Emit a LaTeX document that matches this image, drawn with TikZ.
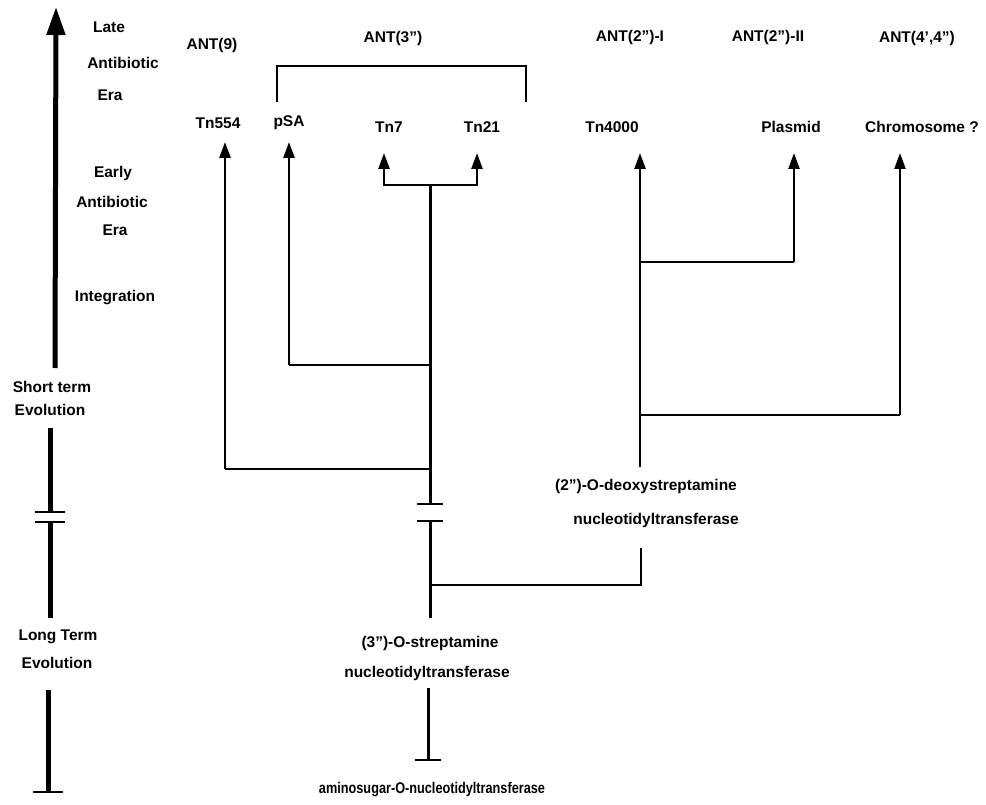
\documentclass[tikz,border=0pt]{standalone}
\usepackage{fontspec}
\setmainfont{Liberation Sans}
\usetikzlibrary{arrows.meta}
\begin{document}
\begin{tikzpicture}[x=1pt,y=-1pt,
  lbl/.style={font=\fontsize{15.5}{18}\selectfont\bfseries, inner sep=0pt, anchor=center},
  axis/.style={line width=5pt},
  bigarrow/.style={line width=5pt, -{Triangle[length=28pt,width=18pt]}},
  tnarrow/.style={line width=2.5pt, -{Triangle[length=16pt,width=11pt]}},
  trunk/.style={line width=3pt},
  link/.style={line width=1.8pt},
  bar/.style={line width=2.4pt}
]
\useasboundingbox (0,0) rectangle (986,805);

% ---- left time axis labels
\node[lbl] (late) at (109,27) {Late};
\node[lbl] (ab1) at (123,63) {Antibiotic};
\node[lbl] (era1) at (110,95) {Era};
\node[lbl] (early) at (113,173) {Early};
\node[lbl] (ab2) at (112,202) {Antibiotic};
\node[lbl] (era2) at (115,230) {Era};
\node[lbl] (integ) at (115,298) {Integration};
\node[lbl] (short) at (52,387) {Short term};
\node[lbl] (evo1) at (50,410) {Evolution};
\node[lbl] (long) at (58,637) {Long Term};
\node[lbl] (evo2) at (57,663) {Evolution};

% left axis geometry
\coordinate (axtop) at (56,7);
\coordinate (axa) at (55,368);
\coordinate (axb) at (50,428);
\coordinate (axc) at (50,512);
\coordinate (axd) at (50,522);
\coordinate (axe) at (50,618);
\coordinate (axf) at (48,690);
\coordinate (axg) at (48,792);

\draw[bigarrow] (axa) -- (axtop);
\draw[axis] (axb) -- (axc);
\draw[axis] (axd) -- (axe);
\draw[bar] ([xshift=-15pt]axc) -- ([xshift=15pt]axc);
\draw[bar] ([xshift=-15pt]axd) -- ([xshift=15pt]axd);
\draw[axis] (axf) -- (axg);
\draw[bar] ([xshift=-15pt]axg) -- ([xshift=15pt]axg);

% ---- top enzyme labels
\node[lbl] (ant9) at (212,45) {ANT(9)};
\node[lbl] (ant3) at (393,38) {ANT(3”)};
\node[lbl] (ant2i) at (630,37) {ANT(2”)-I};
\node[lbl] (ant2ii) at (768,37) {ANT(2”)-II};
\node[lbl] (ant44) at (917,38) {ANT(4’,4”)};

% bracket under ANT(3")
\coordinate (brl) at (277,102);
\coordinate (brr) at (526,102);
\draw[link] (brl) -- (277,66) -- (526,66) -- (brr);

% ---- element labels
\node[lbl] (tn554) at (218,123) {Tn554};
\node[lbl] (psa) at (289,123) {pSA};
\node[lbl] (tn7) at (389,127) {Tn7};
\node[lbl] (tn21) at (482,127) {Tn21};
\node[lbl] (tn4000) at (612,127) {Tn4000};
\node[lbl] (plasmid) at (791,127) {Plasmid};
\node[lbl] (chrom) at (922,127) {Chromosome ?};

% arrow tips
\coordinate (t554) at (225,142);
\coordinate (tpsa) at (289,142);
\coordinate (ttn7) at (384,153);
\coordinate (ttn21) at (477,153);
\coordinate (t4000) at (640,153);
\coordinate (tpl) at (794,153);
\coordinate (tch) at (900,153);

% ---- ANT(3") lineage
\coordinate (j721) at (430,185);
\coordinate (jpsa) at (430,365);
\coordinate (j554) at (430,469);
\coordinate (brk1) at (430,504);
\coordinate (brk2) at (430,521);
\coordinate (j2) at (430,585);
\coordinate (tr3) at (430,618);

\draw[tnarrow] (j721) -| (ttn7);
\draw[tnarrow] (j721) -| (ttn21);
\draw[link] (jpsa) -- (289,365);
\draw[tnarrow] (289,365) -- (tpsa);
\draw[link] (j554) -- (225,469);
\draw[tnarrow] (225,469) -- (t554);
\draw[trunk] (j721) -- (brk1);
\draw[trunk] (brk2) -- (tr3);
\draw[bar] ([xshift=-13pt]brk1) -- ([xshift=13pt]brk1);
\draw[bar] ([xshift=-13pt]brk2) -- ([xshift=13pt]brk2);

% ---- ANT(2") lineage
\coordinate (b4000) at (640,467);
\coordinate (jpl) at (640,262);
\coordinate (jch) at (640,415);
\draw[tnarrow] (b4000) -- (t4000);
\draw[link] (jpl) -- (794,262);
\draw[tnarrow] (794,262) -- (tpl);
\draw[link] (jch) -- (900,415);
\draw[tnarrow] (900,415) -- (tch);

\node[lbl] (deoxy1) at (646,486) {(2”)-O-deoxystreptamine};
\node[lbl] (deoxy2) at (656,520) {nucleotidyltransferase};
\coordinate (d2top) at (641,548);
\draw[link] (d2top) -- (641,585) -- (j2);

% ---- root
\node[lbl] (strep1) at (430,643) {(3”)-O-streptamine};
\node[lbl] (strep2) at (427,673) {nucleotidyltransferase};
\coordinate (rt1) at (428,688);
\coordinate (rt2) at (428,760);
\draw[trunk] (rt1) -- (rt2);
\draw[bar] ([xshift=-13pt]rt2) -- ([xshift=13pt]rt2);
\node[lbl] (amino) at (432,790) {\scalebox{0.82}[1]{aminosugar-O-nucleotidyltransferase}};
\end{tikzpicture}
\end{document}
